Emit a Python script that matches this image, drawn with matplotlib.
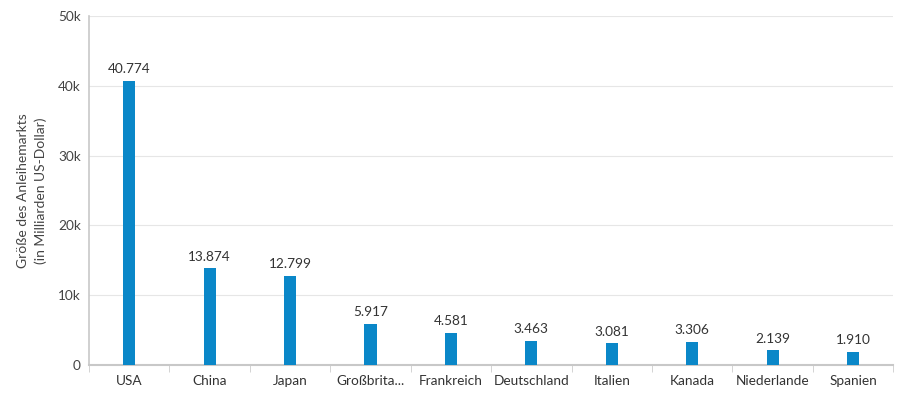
import matplotlib
matplotlib.use("Agg")
import matplotlib.pyplot as plt
import numpy as np

categories = ["USA", "China", "Japan", "Großbrita...", "Frankreich", "Deutschland",
              "Italien", "Kanada", "Niederlande", "Spanien"]
values = [40774, 13874, 12799, 5917, 4581, 3463, 3081, 3306, 2139, 1910]
labels = ["40.774", "13.874", "12.799", "5.917", "4.581", "3.463", "3.081", "3.306", "2.139", "1.910"]
yticks = [0, 10000, 20000, 30000, 40000, 50000]
yticklabels = ["0", "10k", "20k", "30k", "40k", "50k"]

plt.rcParams['font.family'] = ['Lato', 'DejaVu Sans']
fig = plt.figure(figsize=(9.18, 3.95), dpi=100)
ax = fig.add_axes([0.097, 0.076, 0.876, 0.883])

x = np.arange(len(categories))
ax.bar(x, values, width=0.15, color="#0a87c8", zorder=3)
for xi, v, l in zip(x, values, labels):
    ax.annotate(l, (xi, v), xytext=(0, 4), textcoords="offset points",
                ha="center", va="bottom", fontsize=9.8, color="#333333")

ax.set_xlim(-0.5, len(categories) - 0.5)
ax.set_ylim(0, 50000)
ax.set_yticks(yticks)
ax.set_yticklabels(yticklabels, fontsize=9.8, color="#444444")
ax.set_xticks(x)
ax.set_xticklabels(categories, fontsize=9.8, color="#333333")
ax.tick_params(axis="x", length=0, pad=7)
ax.set_xticks(np.arange(-0.5, len(categories), 1), minor=True)
ax.tick_params(axis="x", which="minor", length=5, color="#cccccc")
ax.tick_params(axis="y", length=0, pad=6)
ax.grid(axis="y", color="#e6e6e6", linewidth=0.8, zorder=0)
for s in ["top", "right"]:
    ax.spines[s].set_visible(False)
ax.spines["left"].set_color("#c8c8c8")
ax.spines["bottom"].set_color("#c8c8c8")
ax.spines["bottom"].set_linewidth(1.5)
ax.spines["left"].set_linewidth(1.2)
ax.set_ylabel("Größe des Anleihemarkts\n(in Milliarden US-Dollar)", fontsize=10,
              color="#444444", labelpad=8, linespacing=1.5)

fig.savefig("out.png", dpi=100)
